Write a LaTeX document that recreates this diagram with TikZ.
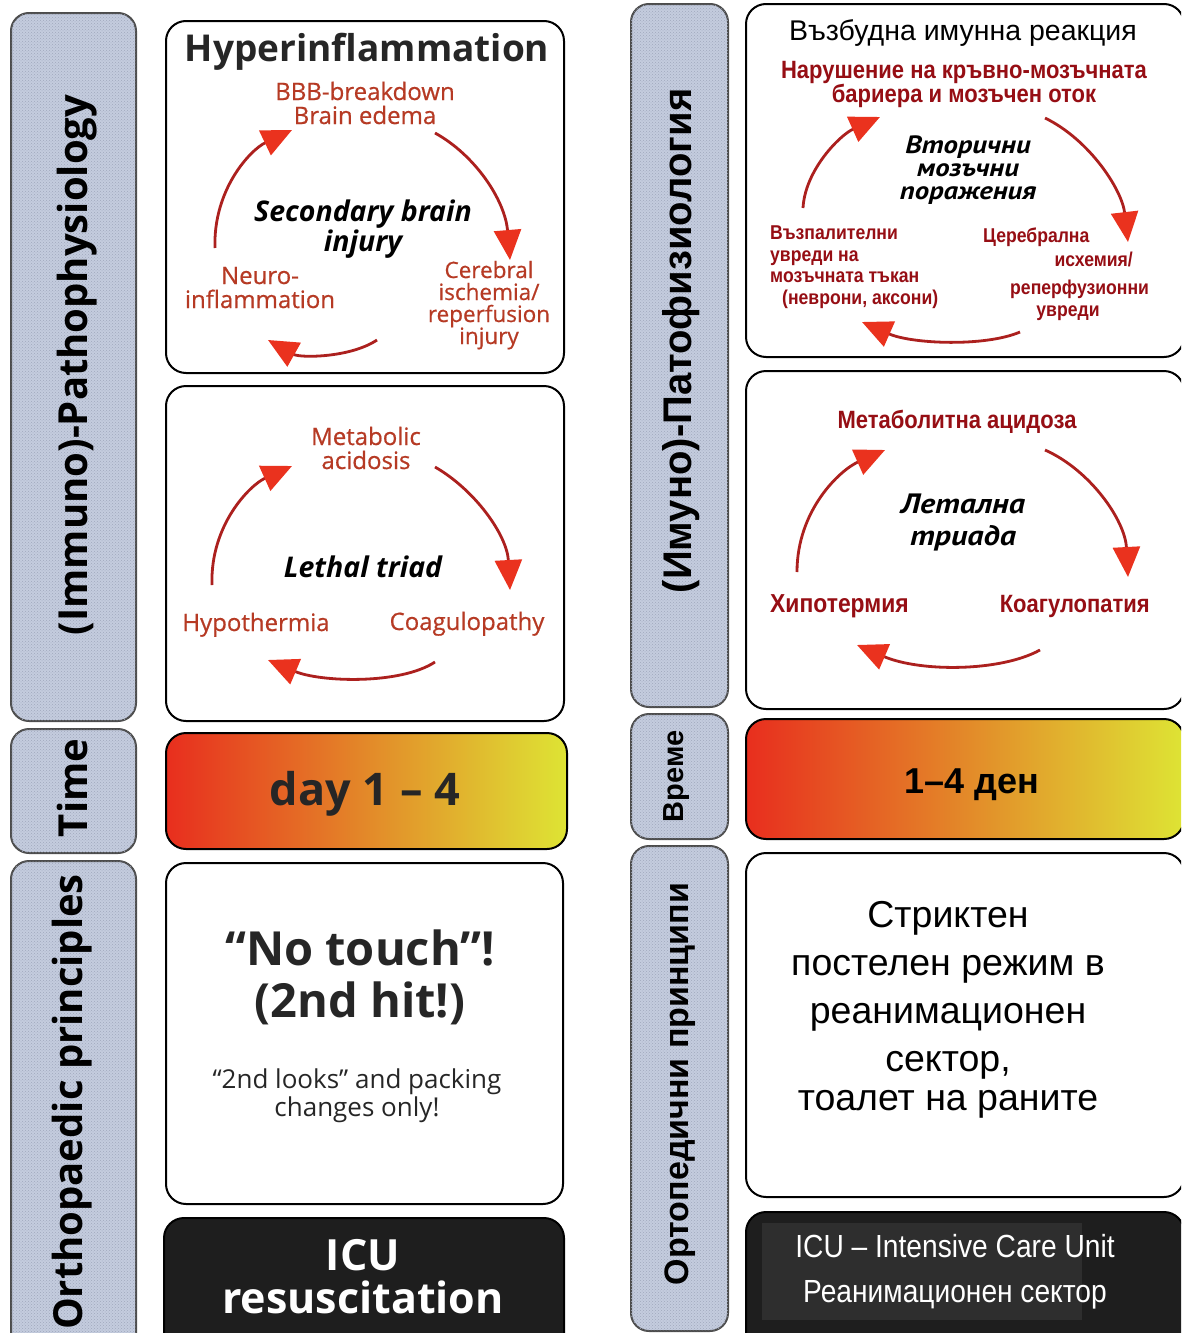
\documentclass[tikz,border=0pt]{standalone}
\usepackage{fontspec}
\setmainfont{Liberation Sans}
\newfontfamily\osf{Open Sans}
\newfontfamily\osm[FakeBold=0.6]{Open Sans}
\newfontfamily\arf{Liberation Sans}
\newfontfamily\arn[FakeStretch=0.88]{Liberation Sans}
\newfontfamily\ptw[FakeStretch=1.15]{PT Sans}
\usetikzlibrary{arrows.meta,patterns}
\newcommand\fs[2]{\fontsize{#1}{#2}\selectfont}
\definecolor{labfill}{RGB}{196,204,222}
\definecolor{labdot}{RGB}{160,168,188}
\definecolor{redL}{RGB}{182,58,36}
\definecolor{redR}{RGB}{150,14,20}
\definecolor{arrline}{RGB}{172,32,30}
\definecolor{arrhead}{RGB}{234,50,30}
\definecolor{gred}{RGB}{232,46,30}
\definecolor{gorange}{RGB}{232,150,44}
\definecolor{gyellow}{RGB}{222,228,52}
\definecolor{icufill}{RGB}{30,30,30}
\definecolor{icuinner}{RGB}{46,46,46}
\tikzset{
  labbox/.style={draw=black!70, line width=2pt, fill=labfill, rounded corners=18pt,
    anchor=north west, inner sep=0pt,
    postaction={pattern=crosshatch dots, pattern color=labdot}},
  wbox/.style={draw=black, line width=2pt, fill=white, rounded corners=20pt, anchor=north west, inner sep=0pt},
  gbox/.style={draw=black, line width=2pt, rounded corners=20pt, anchor=north west, inner sep=0pt,
    left color=gred, middle color=gorange, right color=gyellow},
  ibox/.style={draw=black, line width=2pt, fill=icufill, rounded corners=20pt, anchor=north west, inner sep=0pt},
  txt/.style={anchor=base, inner sep=0pt, align=center},
  vlab/.style={rotate=90, anchor=center, inner sep=0pt},
  cyc/.style={draw=arrline, line width=2.8pt, -{Triangle[length=30pt,width=27pt,color=arrhead]}},
  lred/.style={txt, text=redL, font=\osm\fs{24}{24}},
  rred/.style={txt, text=redR, font=\arn\bfseries\fs{25}{24}},
  rreds/.style={anchor=base west, inner sep=0pt, align=left, text=redR, font=\arn\bfseries\fs{20}{21.5}},
}
\begin{document}
\begin{tikzpicture}[x=1pt,y=-1pt]
\useasboundingbox (0,0) rectangle (1181,1333);
\begin{scope}
\clip (0,0) rectangle (1181,1333);
% ---------------- LEFT (English) ----------------
\node[labbox, minimum width=125pt, minimum height=708pt] (Lpath) at (10,12) {};
\node[labbox, minimum width=125pt, minimum height=124pt] (Ltime) at (10,728) {};
\node[labbox, minimum width=125pt, minimum height=500pt] (Lortho) at (10,860) {};
\node[vlab, font=\osf\bfseries\fs{40}{40}] (LpathT) at (77,365) {(Immuno)-Pathophysiology};
\node[vlab, font=\osf\bfseries\fs{40}{40}] (LtimeT) at (72,788) {Time};
\node[vlab, font=\osf\bfseries\fs{40}{40}] (LorthoT) at (72,1102) {Orthopaedic principles};

\node[wbox, minimum width=398pt, minimum height=352pt] (Lhyp) at (165,20) {};
\node[wbox, minimum width=398pt, minimum height=335pt] (Ltriad) at (165,385) {};
\node[gbox, minimum width=401pt, minimum height=116pt] (Lday) at (165,732) {};
\node[wbox, minimum width=397pt, minimum height=341pt] (Lnot) at (165,862) {};
\node[ibox, minimum width=400pt, minimum height=140pt] (Licu) at (163,1217) {};

\node[txt, font=\osf\bfseries\fs{37}{37}, text=black!85] (LhypT) at (367,61) {Hyperinflammation};
\node[lred] (Lbbb) at (365,124) {BBB-breakdown\\Brain edema};
\node[txt, font=\osf\bfseries\itshape\fs{28.5}{27}] (Lsec) at (363,251) {Secondary brain\\injury};
\node[lred] (Lneu) at (260,308) {Neuro-\\inflammation};
\node[lred, font=\osm\fs{22.5}{22}] (Lcer) at (489,344) {Cerebral\\ischemia/\\reperfusion\\injury};
\coordinate (h1a) at (215,248); \coordinate (h1b) at (292,130);
\coordinate (h2a) at (435,133); \coordinate (h2b) at (510,260);
\coordinate (h3a) at (377,340); \coordinate (h3b) at (268,340);
\draw[cyc] (h1a) .. controls (213,190) and (250,150) .. (h1b);
\draw[cyc] (h2a) .. controls (475,155) and (505,200) .. (h2b);
\draw[cyc] (h3a) .. controls (350,358) and (300,358) .. (h3b);

\node[lred] (Lmet) at (366,469) {Metabolic\\acidosis};
\node[txt, font=\osf\bfseries\itshape\fs{28.5}{27}] (Lleth) at (363,577) {Lethal triad};
\node[lred] (Lhypo) at (256,631) {Hypothermia};
\node[lred] (Lcoag) at (467,630) {Coagulopathy};
\coordinate (t1a) at (212,585); \coordinate (t1b) at (292,466);
\coordinate (t2a) at (435,467); \coordinate (t2b) at (510,590);
\coordinate (t3a) at (435,662); \coordinate (t3b) at (268,660);
\draw[cyc] (t1a) .. controls (210,525) and (250,485) .. (t1b);
\draw[cyc] (t2a) .. controls (475,490) and (507,535) .. (t2b);
\draw[cyc] (t3a) .. controls (400,685) and (320,682) .. (t3b);

\node[txt, font=\osf\bfseries\fs{45}{45}, text=black!85] (LdayT) at (365,805) {day 1 – 4};
\node[txt, font=\osf\bfseries\fs{47}{52}, text=black!85] (LnoT) at (360,1017) {“No touch”!\\(2nd hit!)};
\node[txt, font=\osf\fs{26}{28}, text=black!85] (LlookT) at (357,1116) {“2nd looks” and packing\\changes only!};
\node[txt, font=\osf\bfseries\fs{43}{43}, text=white] (LicuT) at (363,1313) {ICU\\resuscitation};

% ---------------- RIGHT (Bulgarian) ----------------
\node[labbox, minimum width=97pt, minimum height=703pt] (Rpath) at (630,3) {};
\node[labbox, minimum width=97pt, minimum height=125pt] (Rtime) at (630,713) {};
\node[labbox, minimum width=97pt, minimum height=485pt] (Rortho) at (630,845) {};
\node[vlab, font=\arf\bfseries\fs{40}{40}] (RpathT) at (681,341) {(Имуно)-Патофизиология};
\node[vlab, font=\arf\bfseries\fs{29}{29}] (RtimeT) at (677,776) {Време};
\node[vlab, font=\arf\bfseries\fs{34}{34}] (RorthoT) at (680,1084) {Ортопедични принципи};

\node[wbox, minimum width=438pt, minimum height=353pt] (Rimm) at (745,3) {};
\node[wbox, minimum width=438pt, minimum height=338pt] (Rtriad) at (745,370) {};
\node[gbox, minimum width=438pt, minimum height=120pt] (Rday) at (745,718) {};
\node[wbox, minimum width=438pt, minimum height=344pt] (Rstr) at (745,852) {};
\node[ibox, minimum width=438pt, minimum height=140pt] (Ricu) at (745,1211) {};
\node[fill=icuinner, anchor=north west, inner sep=0pt, minimum width=320pt, minimum height=97pt] (Ricuin) at (762,1223) {};

\node[txt, font=\arf\fs{28.5}{28}] (RimmT) at (963,40) {Възбудна имунна реакция};
\node[rred] (Rbbb) at (964,102) {Нарушение на кръвно-мозъчната\\бариера и мозъчен оток};
\node[txt, font=\ptw\bfseries\itshape\fs{25}{23}] (Rsec) at (968,199) {Вторични\\мозъчни\\поражения};
\node[rreds, anchor=base west] (Rneu) at (770,304) {Възпалителни\\увреди на\\мозъчната тъкан\\\hspace*{12pt}(неврони, аксони)};
\node[rreds] (Rcer1) at (983,242) {Церебрална};
\node[rreds, anchor=base east] (Rcer2) at (1133,266) {исхемия/};
\node[rreds] (Rcer3) at (1010,294) {реперфузионни};
\node[rreds, anchor=base] (Rcer4) at (1068,316) {увреди};
\coordinate (r1a) at (803,208); \coordinate (r1b) at (880,117);
\coordinate (r2a) at (1045,118); \coordinate (r2b) at (1128,242);
\coordinate (r3a) at (1020,332); \coordinate (r3b) at (862,322);
\draw[cyc] (r1a) .. controls (805,170) and (840,135) .. (r1b);
\draw[cyc] (r2a) .. controls (1090,140) and (1122,190) .. (r2b);
\draw[cyc] (r3a) .. controls (985,347) and (912,344) .. (r3b);

\node[rred] (Rmet) at (957,428) {Метаболитна ацидоза};
\node[txt, font=\ptw\bfseries\itshape\fs{28}{32}] (Rleth) at (963,545) {Летална\\триада};
\node[rred, anchor=base west, font=\arn\bfseries\fs{26}{24}] (Rhypo) at (770,612) {Хипотермия};
\node[rred, anchor=base east] (Rcoag) at (1150,612) {Коагулопатия};
\coordinate (s1a) at (797,572); \coordinate (s1b) at (885,450);
\coordinate (s2a) at (1045,450); \coordinate (s2b) at (1128,577);
\coordinate (s3a) at (1040,650); \coordinate (s3b) at (857,645);
\draw[cyc] (s1a) .. controls (797,510) and (840,470) .. (s1b);
\draw[cyc] (s2a) .. controls (1090,470) and (1125,520) .. (s2b);
\draw[cyc] (s3a) .. controls (1000,672) and (920,672) .. (s3b);

\node[txt, font=\arf\bfseries\fs{36}{36}] (RdayT) at (972,793) {1–4 ден};
\node[txt, font=\arf\fs{37.5}{48}] (RstrT) at (948,1071) {Стриктен\\постелен режим в\\реанимационен\\сектор,};
\node[txt, font=\arf\fs{37.5}{37}] (RstrT2) at (948,1110) {тоалет на раните};
\node[txt, font=\arn\fs{32}{45}, text=white] (RicuT) at (955,1302) {ICU – Intensive Care Unit\\Реанимационен сектор};
\end{scope}
\end{tikzpicture}
\end{document}
